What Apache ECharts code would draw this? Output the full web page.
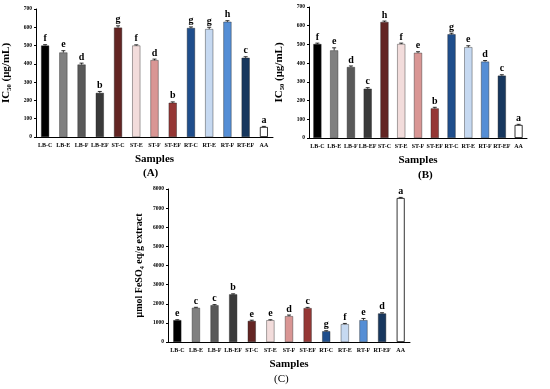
<!DOCTYPE html>
<html><head><meta charset="utf-8">
<script src="https://cdn.jsdelivr.net/npm/echarts@6/dist/echarts.min.js"></script>
<style>html,body{margin:0;padding:0;background:#fff}#c{width:550px;height:389px}</style>
</head><body><div id="c"></div>
<script>
const categories = ['LB-C','LB-E','LB-F','LB-EF','ST-C','ST-E','ST-F','ST-EF','RT-C','RT-E','RT-F','RT-EF','AA'];
const barColors = ['#000000','#808080','#595959','#3a3a3a','#632523','#f2dcdb','#d99694','#953735','#1f4e8c','#c6d9f1','#558ed5','#17375e','#ffffff'];
const valuesA = [500,462,396,241,598,500,420,187,596,590,630,433,55];
const errorsA = [5,10,8,8,10,4,6,5,6,10,6,6,3];
const lettersA = ['f','e','d','b','g','f','d','b','g','g','h','c','a'];
const valuesB = [502,468,379,263,620,502,455,158,554,485,408,333,70];
const errorsB = [5,14,6,6,5,5,6,6,6,8,6,5,3];
const lettersB = ['f','e','d','c','h','f','e','b','g','e','d','c','a'];
const valuesC = [1140,1785,1920,2490,1100,1135,1350,1770,560,930,1140,1490,7530];
const errorsC = [25,30,35,30,40,30,60,40,30,40,90,40,30];
const lettersC = ['e','c','c','b','e','e','d','c','g','f','e','d','a'];
const ticksAB = [0,100,200,300,400,500,600,700];
const ticksC = [0,1000,2000,3000,4000,5000,6000,7000,8000];

const FONT = '"Liberation Serif", "DejaVu Serif", serif';
const chart = echarts.init(document.getElementById('c'));

const grids = [
  {left:34, top:9, width:239, height:128},
  {left:309, top:7, width:218, height:131},
  {left:168, top:189, width:242, height:153}
];
function xAxis(i){
  return {gridIndex:i, type:'category', data:categories,
    name:'Samples', nameLocation:'middle', nameGap:17,
    nameTextStyle:{fontFamily:FONT, fontWeight:'bold', fontSize:11, color:'#000'},
    axisLine:{lineStyle:{color:'#000', width:1}},
    axisTick:{length:2, lineStyle:{color:'#000'}},
    axisLabel:{interval:0, fontFamily:FONT, fontWeight:'bold', fontSize:6, color:'#000', margin:5}};
}
function yAxis(i, ticks, name, gap, nameSize){
  return {gridIndex:i, type:'value', min:ticks[0], max:ticks[ticks.length-1], interval:ticks[1]-ticks[0],
    name:name, nameLocation:'middle', nameGap:gap,
    nameTextStyle:{fontFamily:FONT, fontWeight:'bold', fontSize:nameSize, color:'#000'},
    axisLine:{show:true, lineStyle:{color:'#000', width:1}},
    axisTick:{show:true, length:2, lineStyle:{color:'#000'}},
    splitLine:{show:false},
    axisLabel:{fontFamily:FONT, fontWeight:'bold', fontSize:5.5, color:'#000', margin:4, formatter:v=>String(v)}};
}
function bars(i, vals){
  return {type:'bar', xAxisIndex:i, yAxisIndex:i, barWidth:8,
    data: vals.map((v,k)=>({value:v, itemStyle:{color:barColors[k], borderColor: k===12 ? '#000' : '#222', borderWidth: k===12 ? 0.8 : 0.4}})),
    z:2};
}
function errorBars(i, vals, errs, letters){
  return {type:'custom', xAxisIndex:i, yAxisIndex:i, z:3,
    data: vals.map((v,k)=>[k, v, errs[k], k]),
    renderItem:function(params, api){
      const x = api.value(0), v = api.value(1), e = api.value(2);
      const p0 = api.coord([x, v]);
      const p1 = api.coord([x, v+e]);
      const s = {stroke:'#000', lineWidth:0.8};
      return {type:'group', children:[
        {type:'line', shape:{x1:p0[0], y1:p0[1], x2:p1[0], y2:p1[1]}, style:s},
        {type:'line', shape:{x1:p1[0]-2, y1:p1[1], x2:p1[0]+2, y2:p1[1]}, style:s},
        {type:'text', x:p1[0], y:p1[1]-1, style:{text:letters[params.dataIndex], font:'bold 10px '+FONT, fill:'#000', textAlign:'center', textVerticalAlign:'bottom'}}
      ]};
    }};
}
chart.setOption({
  animation:false,
  backgroundColor:'#fff',
  grid:grids,
  xAxis:[xAxis(0), xAxis(1), xAxis(2)],
  yAxis:[yAxis(0,ticksAB,'IC\u2085\u2080 (\u03bcg/mL)',24,11),
         yAxis(1,ticksAB,'IC\u2085\u2080 (\u03bcg/mL)',24,11),
         yAxis(2,ticksC,'\u03bcmol FeSO\u2084 eq/g extract',24,10)],
  series:[bars(0,valuesA), errorBars(0,valuesA,errorsA,lettersA),
          bars(1,valuesB), errorBars(1,valuesB,errorsB,lettersB),
          bars(2,valuesC), errorBars(2,valuesC,errorsC,lettersC)],
  graphic:[
    {type:'text', left:143, top:168, style:{text:'(A)', font:'bold 11px '+FONT, fill:'#000'}},
    {type:'text', left:418, top:170, style:{text:'(B)', font:'bold 11px '+FONT, fill:'#000'}},
    {type:'text', left:274, top:374, style:{text:'(C)', font:'11px '+FONT, fill:'#000'}}
  ]
});
</script></body></html>
